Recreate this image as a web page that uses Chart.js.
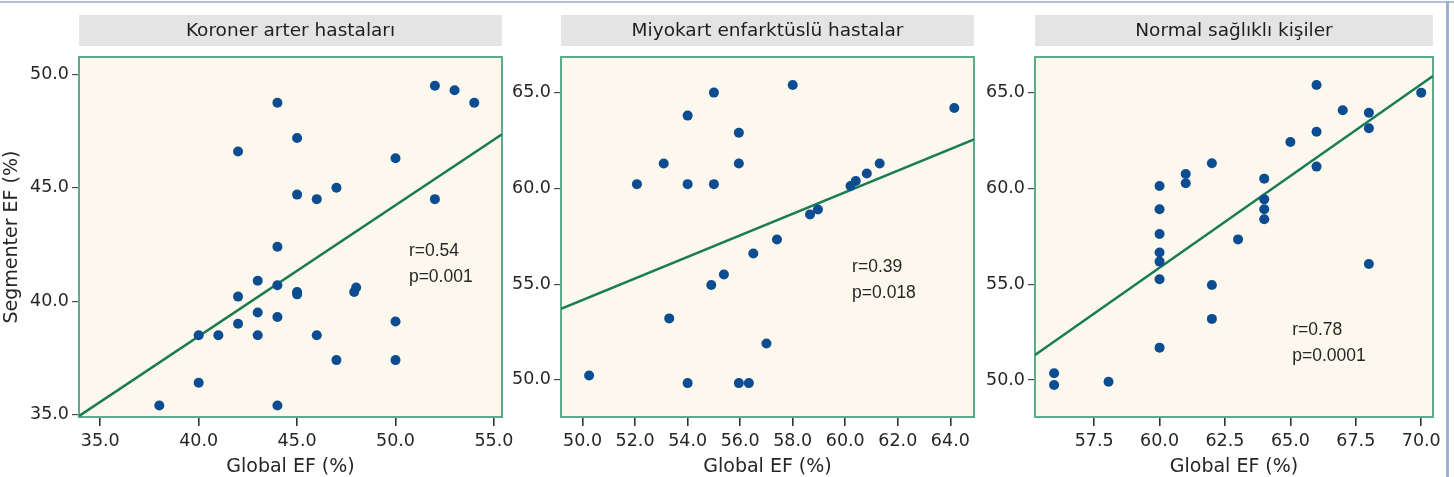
<!DOCTYPE html>
<html>
<head>
<meta charset="utf-8">
<title>Global EF - Segmenter EF</title>
<script src="https://cdn.jsdelivr.net/npm/chart.js@4.4.0/dist/chart.umd.min.js"></script>
<style>
    html, body { margin: 0; padding: 0; background: #ffffff; }
    body { position: relative; width: 1454px; height: 477px; overflow: hidden; }
    .panel { position: absolute; top: 0; height: 477px; }
    .frame-top { position: absolute; left: 0; top: 1px; width: 1454px; height: 2px; background: #b3c1d6; }
    .frame-right { position: absolute; left: 1446px; top: 1px; width: 3px; height: 476px; background: #9db0cc; }
</style>
</head>
<body>
<div class="frame-top"></div>
<div class="frame-right"></div>
<div class="panel" style="left:0px"><canvas id="chartKah" width="520" height="477"></canvas></div>
<div class="panel" style="left:503px"><canvas id="chartMi" width="478" height="477"></canvas></div>
<div class="panel" style="left:978px"><canvas id="chartNorm" width="476" height="477"></canvas></div>

<script>
// Koroner arter hastaları
const kahGlobalEF  = [38.0, 40.0, 40.0, 41.0, 42.0, 42.0, 42.0, 43.0, 43.0, 43.0, 44.0, 44.0, 44.0, 44.0, 44.0, 45.0,
                      45.0, 45.0, 45.0, 46.0, 46.0, 47.0, 47.0, 48.0, 47.9, 50.0, 50.0, 50.0, 52.0, 52.0, 53.0, 54.0];
const kahSegmentEF = [35.4, 36.4, 38.5, 38.5, 40.2, 39.0, 46.6, 40.9, 39.5, 38.5, 48.75, 42.4, 40.7, 39.3, 35.4, 47.2,
                      44.7, 40.4, 40.3, 44.5, 38.5, 45.0, 37.4, 40.6, 40.4, 46.3, 39.1, 37.4, 49.5, 44.5, 49.3, 48.75];
const kahFitX = [33.92, 55.41];
const kahFitY = [34.93, 47.36];

// Miyokart enfarktüslü hastalar
const miGlobalEF  = [50.25, 52.07, 53.09, 53.3, 54.0, 54.0, 54.0, 55.0, 55.0, 54.9, 55.38, 55.95, 55.95, 55.95,
                     56.33, 56.5, 57.0, 57.4, 58.0, 58.66, 58.96, 60.2, 60.4, 60.82, 61.31, 64.15];
const miSegmentEF = [50.23, 60.22, 61.3, 53.21, 63.8, 60.22, 49.83, 65.0, 60.22, 54.95, 55.5, 62.9, 61.3, 49.83,
                     49.83, 56.6, 51.9, 57.33, 65.4, 58.64, 58.9, 60.12, 60.38, 60.78, 61.3, 64.2];
const miFitX = [49.18, 64.9];
const miFitY = [53.71, 62.56];

// Normal sağlıklı kişiler
const normGlobalEF  = [55.97, 55.97, 58.05, 60.0, 60.0, 60.0, 60.0, 60.0, 60.0, 60.0, 61.0, 61.0, 62.0, 62.0, 62.0,
                       63.0, 64.0, 64.0, 64.0, 64.0, 65.0, 66.0, 66.0, 66.0, 67.0, 68.0, 68.0, 68.0, 70.0];
const normSegmentEF = [50.35, 49.74, 49.91, 60.13, 58.91, 57.62, 56.66, 56.18, 55.26, 51.69, 60.75, 60.27, 61.31, 54.96, 53.19,
                       57.34, 60.51, 59.43, 58.91, 58.39, 62.42, 65.4, 62.96, 61.14, 64.08, 63.95, 63.14, 56.06, 65.0];
const normFitX = [55.24, 70.45];
const normFitY = [51.31, 65.87];

// eksen işaretleri
const kahXTicks  = [35, 40, 45, 50, 55];
const kahYTicks  = [35, 40, 45, 50];
const miXTicks   = [50, 52, 54, 56, 58, 60, 62, 64];
const miYTicks   = [50, 55, 60, 65];
const normXTicks = [57.5, 60, 62.5, 65, 67.5, 70];
const normYTicks = [50, 55, 60, 65];

const panelTitles = ['Koroner arter hastaları', 'Miyokart enfarktüslü hastalar', 'Normal sağlıklı kişiler'];
const corrNotes = [['r=0.54', 'p=0.001'], ['r=0.39', 'p=0.018'], ['r=0.78', 'p=0.0001']];

const TEXT = '#262626';

function toPoints(xs, ys) {
    return xs.map((x, i) => ({ x: x, y: ys[i] }));
}

// plot background, gray title strip, green frame and r/p text
const panelDecor = {
    id: 'panelDecor',
    beforeDraw(chart, args, opts) {
        const { ctx, chartArea: a } = chart;
        ctx.save();
        ctx.fillStyle = '#fcf8ee';
        ctx.fillRect(a.left, a.top, a.right - a.left, a.bottom - a.top);
        ctx.fillStyle = '#e4e4e4';
        ctx.fillRect(a.left, 15, a.right - a.left, 31);
        ctx.fillStyle = '#1e1e1e';
        ctx.font = '18.5px "DejaVu Sans"';
        ctx.textAlign = 'center';
        ctx.textBaseline = 'middle';
        ctx.fillText(opts.title, (a.left + a.right) / 2, 31);
        ctx.restore();
    },
    beforeDatasetsDraw(chart) {
        const { ctx, chartArea: a } = chart;
        ctx.save();
        ctx.strokeStyle = '#5eab8c';
        ctx.lineWidth = 2;
        ctx.strokeRect(a.left, a.top, a.right - a.left, a.bottom - a.top);
        ctx.restore();
    },
    afterDatasetsDraw(chart, args, opts) {
        const { ctx, scales } = chart;
        const px = scales.x.getPixelForValue(opts.noteAt[0]);
        const py = scales.y.getPixelForValue(opts.noteAt[1]);
        ctx.save();
        ctx.fillStyle = TEXT;
        ctx.font = '17.5px "Liberation Sans"';
        ctx.textAlign = 'left';
        ctx.textBaseline = 'middle';
        opts.notes.forEach((line, i) => ctx.fillText(line, px, py + i * 26));
        ctx.restore();
    }
};

function makePanel(canvasId, cfg) {
    const ctx = document.getElementById(canvasId).getContext('2d');
    return new Chart(ctx, {
        type: 'scatter',
        data: {
            datasets: [
                {
                    label: 'Hastalar',
                    data: toPoints(cfg.xs, cfg.ys),
                    backgroundColor: '#0b4d90',
                    borderColor: '#0b4d90',
                    pointRadius: 5,
                    borderWidth: 0,
                    order: 1
                },
                {
                    label: 'Regresyon',
                    type: 'line',
                    data: toPoints(cfg.fitX, cfg.fitY),
                    borderColor: '#1b7b52',
                    borderWidth: 2.5,
                    pointRadius: 0,
                    fill: false,
                    tension: 0,
                    order: 2
                }
            ]
        },
        options: {
            responsive: false,
            animation: false,
            layout: {
                padding: { top: 57, bottom: 0, left: 0, right: cfg.padRight }
            },
            scales: {
                x: {
                    type: 'linear',
                    position: 'bottom',
                    min: cfg.fitX[0],
                    max: cfg.fitX[1],
                    afterBuildTicks: function(scale) {
                        scale.ticks = cfg.xTicks.map(v => ({ value: v }));
                    },
                    afterFit: function(scale) {
                        scale.height = 60;
                    },
                    border: { display: false },
                    grid: {
                        drawOnChartArea: false,
                        drawTicks: true,
                        tickLength: 9,
                        color: '#333333',
                        lineWidth: 1.6
                    },
                    ticks: {
                        color: TEXT,
                        padding: 5,
                        maxRotation: 0,
                        font: { family: '"DejaVu Sans"', size: 17.5 },
                        callback: function(value) {
                            return Number(value).toFixed(1);
                        }
                    },
                    title: {
                        display: true,
                        text: 'Global EF (%)',
                        color: TEXT,
                        padding: { top: 0, bottom: 0 },
                        font: { family: '"DejaVu Sans"', size: 19, lineHeight: 1 }
                    }
                },
                y: {
                    type: 'linear',
                    position: 'left',
                    min: cfg.yRange[0],
                    max: cfg.yRange[1],
                    afterBuildTicks: function(scale) {
                        scale.ticks = cfg.yTicks.map(v => ({ value: v }));
                    },
                    afterFit: function(scale) {
                        scale.width = cfg.yWidth;
                    },
                    border: { display: false },
                    grid: {
                        drawOnChartArea: false,
                        drawTicks: true,
                        tickLength: 7,
                        color: '#4a4a4a',
                        lineWidth: 1.2
                    },
                    ticks: {
                        color: TEXT,
                        padding: 3,
                        font: { family: '"DejaVu Sans"', size: 17.5 },
                        callback: function(value) {
                            return Number(value).toFixed(1);
                        }
                    },
                    title: {
                        display: cfg.showYTitle,
                        text: 'Segmenter EF (%)',
                        color: TEXT,
                        padding: { top: 3, bottom: 0 },
                        font: { family: '"DejaVu Sans"', size: 19, lineHeight: 1 }
                    }
                }
            },
            plugins: {
                legend: { display: false },
                tooltip: { enabled: false },
                panelDecor: {
                    title: cfg.title,
                    notes: cfg.notes,
                    noteAt: cfg.noteAt
                }
            }
        },
        plugins: [panelDecor]
    });
}

makePanel('chartKah', {
    xs: kahGlobalEF, ys: kahSegmentEF, fitX: kahFitX, fitY: kahFitY,
    xTicks: kahXTicks, yTicks: kahYTicks, yRange: [34.89, 50.77],
    yWidth: 79, padRight: 18, showYTitle: true,
    title: panelTitles[0], notes: corrNotes[0], noteAt: [50.68, 42.22]
});

makePanel('chartMi', {
    xs: miGlobalEF, ys: miSegmentEF, fitX: miFitX, fitY: miFitY,
    xTicks: miXTicks, yTicks: miYTicks, yRange: [48.06, 66.86],
    yWidth: 58, padRight: 7, showYTitle: false,
    title: panelTitles[1], notes: corrNotes[1], noteAt: [60.26, 55.89]
});

makePanel('chartNorm', {
    xs: normGlobalEF, ys: normSegmentEF, fitX: normFitX, fitY: normFitY,
    xTicks: normXTicks, yTicks: normYTicks, yRange: [48.07, 66.86],
    yWidth: 57, padRight: 21, showYTitle: false,
    title: panelTitles[2], notes: corrNotes[2], noteAt: [65.07, 52.61]
});
</script>
</body>
</html>
